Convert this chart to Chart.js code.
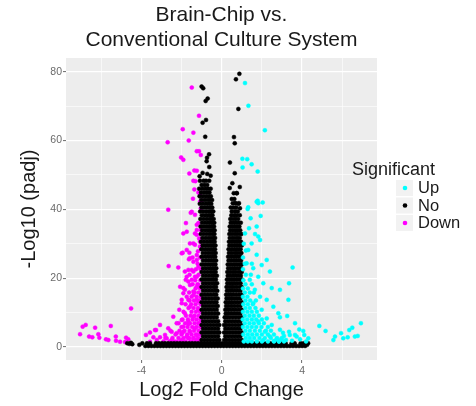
<!DOCTYPE html>
<html>
<head>
<meta charset="utf-8">
<title>Brain-Chip vs. Conventional Culture System</title>
<script src="https://cdn.jsdelivr.net/npm/chart.js@4.4.1/dist/chart.umd.min.js"></script>
<style>
    html, body { margin: 0; padding: 0; background: #ffffff; }
    #volcanoChart { display: block; }
</style>
</head>
<body>
<canvas id="volcanoChart" width="476" height="406"></canvas>
<script>
// Volcano plot: Brain-Chip vs. Conventional Culture System

const titleLines = ['Brain-Chip vs.', 'Conventional Culture System'];
const xAxisTitle = 'Log2 Fold Change';
const yAxisTitle = '-Log10 (padj)';
const legendTitle = 'Significant';
const seriesNames = ['Up', 'No', 'Down'];

// axis ticks (grid lines at every value, labels only on the major ones)
const xGridValues = [-6, -4, -2, 0, 2, 4, 6];
const xTickLabels = [-4, 0, 4];
const yGridValues = [0, 10, 20, 30, 40, 50, 60, 70, 80];
const yTickLabels = [0, 20, 40, 60, 80];

// Up (significant, log2FC > 1): scattered genes [log2FC, -log10 padj]
const upPoints = [
    [1.16, 76.7], [1.33, 70.1], [2.15, 63.0], [1.03, 54.7], [1.27, 54.6], [1.49, 53.1], [1.04, 52.2], [1.79, 51.0],
    [1.74, 42.2], [1.79, 42.5], [2.04, 42.0], [1.29, 40.1], [1.32, 40.6], [1.82, 41.8], [1.94, 38.1], [1.44, 37.4],
    [1.74, 35.0], [1.36, 34.5], [1.16, 33.0], [1.66, 32.8], [1.82, 32.1], [1.91, 31.1], [1.49, 30.1], [1.32, 28.2],
    [1.74, 26.8], [2.24, 25.3], [1.24, 24.3], [1.99, 23.8], [1.57, 22.9], [2.40, 21.9], [1.82, 20.4], [1.40, 19.5],
    [2.07, 18.5], [2.49, 17.1], [1.65, 16.6], [2.90, 16.6], [1.91, 14.6], [2.24, 13.7], [3.32, 13.7], [1.57, 12.7],
    [2.57, 11.7], [1.99, 10.8], [2.82, 9.8], [3.26, 9.0], [2.90, 8.6], [2.24, 8.3], [1.82, 7.4], [2.49, 6.4],
    [3.65, 6.9], [2.15, 4.4], [2.90, 5.0], [2.40, 3.0], [3.39, 3.5], [2.07, 2.0], [2.73, 2.3], [3.53, 23.1],
    [3.35, 18.5], [4.86, 6.1], [5.17, 4.65], [3.86, 5.1], [4.06, 4.65], [4.11, 3.5], [4.31, 2.5], [3.35, 4.4],
    [3.65, 3.5], [3.73, 3.0], [5.64, 3.0], [5.56, 2.0], [5.94, 4.0], [6.05, 2.5], [6.27, 2.8], [6.35, 4.9],
    [6.50, 5.6], [6.93, 6.9], [6.63, 3.0], [6.77, 3.2], [2.95, 2.2], [3.10, 3.2], [3.20, 2.0], [3.05, 4.1],
    [2.60, 1.7], [2.85, 1.6], [3.50, 1.8], [3.90, 2.2], [4.20, 1.6]
];

// Up: dense cloud next to the cut-off, one row per -log10 padj level [y, x, x, ...]
const upRows = [
    [1.6, 1.1, 1.3, 1.5, 1.75, 2.0, 2.3, 2.6, 2.85, 3.1],
    [2.6, 1.2, 1.4, 1.62, 1.88, 2.15, 2.45, 2.75, 3.0],
    [3.6, 1.08, 1.3, 1.52, 1.75, 2.0, 2.3, 2.6],
    [4.7, 1.18, 1.4, 1.65, 1.9, 2.2, 2.45],
    [5.8, 1.06, 1.28, 1.5, 1.72, 1.98, 2.3],
    [6.9, 1.15, 1.38, 1.6, 1.85, 2.1],
    [8.0, 1.05, 1.27, 1.5, 1.72, 2.0],
    [9.1, 1.15, 1.38, 1.6, 1.85],
    [10.2, 1.06, 1.28, 1.5, 1.75],
    [11.3, 1.18, 1.4, 1.68],
    [12.4, 1.08, 1.3, 1.55],
    [13.5, 1.18, 1.42, 1.7],
    [14.6, 1.06, 1.28],
    [15.8, 1.15, 1.4, 1.6],
    [17.0, 1.06, 1.3],
    [18.2, 1.18, 1.5],
    [19.4, 1.08],
    [21.0, 1.2, 1.45],
    [22.6, 1.06],
    [24.2, 1.15, 1.5],
    [26.0, 1.06],
    [28.0, 1.2],
    [30.0, 1.1]
];

// No (not significant): scattered genes above the dense core
const noPoints = [
    [-1.0, 75.7], [-0.92, 75.2], [-0.80, 71.5], [-0.70, 72.2], [-0.78, 66.0], [-0.95, 65.2], [-0.82, 61.1],
    [-0.63, 56.0], [-0.73, 55.0], [-0.75, 54.0], [-0.62, 52.3], [-0.95, 50.6], [-0.55, 49.8], [-1.1, 49.6],
    [-0.72, 50.3], [0.88, 79.4], [0.71, 77.8], [0.83, 69.2], [0.61, 61.0], [0.65, 59.2], [0.41, 53.6],
    [0.65, 50.5], [0.53, 47.6], [0.75, 44.7], [0.66, 41.8], [0.83, 41.6], [0.91, 40.3], [0.40, 46.2],
    [0.90, 46.5], [-4.7, 1.1], [-4.6, 0.9], [-4.52, 1.2], [-4.45, 0.8], [-4.1, 0.6], [4.25, 0.6], [4.3, 1.1]
];

// No: dense left core (negative fold change) [y, x, x, ...]
const noLeftRows = [
    [2.0, -1.0, -0.85, -0.7, -0.55, -0.4, -0.25, -0.12],
    [3.1, -0.93, -0.78, -0.63, -0.48, -0.33, -0.18],
    [4.2, -1.0, -0.85, -0.7, -0.55, -0.4, -0.25, -0.12],
    [5.3, -0.93, -0.78, -0.63, -0.48, -0.33, -0.18],
    [6.4, -1.0, -0.85, -0.7, -0.55, -0.4, -0.25, -0.12],
    [7.5, -0.93, -0.78, -0.63, -0.48, -0.33, -0.18],
    [8.6, -1.0, -0.85, -0.7, -0.55, -0.4, -0.25],
    [9.7, -0.93, -0.78, -0.63, -0.48, -0.33, -0.18],
    [10.8, -1.0, -0.85, -0.7, -0.55, -0.4, -0.25],
    [11.9, -0.93, -0.78, -0.63, -0.48, -0.33, -0.2],
    [13.0, -1.0, -0.85, -0.7, -0.55, -0.4, -0.26],
    [14.1, -0.93, -0.78, -0.63, -0.48, -0.33, -0.2],
    [15.2, -1.0, -0.85, -0.7, -0.55, -0.4, -0.27],
    [16.3, -0.93, -0.78, -0.63, -0.48, -0.34, -0.22],
    [17.4, -1.0, -0.85, -0.7, -0.55, -0.4, -0.28],
    [18.5, -0.93, -0.78, -0.63, -0.48, -0.35, -0.23],
    [19.6, -1.0, -0.85, -0.7, -0.55, -0.41, -0.29],
    [20.7, -0.93, -0.78, -0.63, -0.48, -0.36, -0.24],
    [21.8, -1.0, -0.85, -0.7, -0.55, -0.42, -0.3],
    [22.9, -0.93, -0.78, -0.63, -0.5, -0.38, -0.27],
    [24.0, -1.0, -0.85, -0.7, -0.56, -0.43, -0.31],
    [25.1, -0.93, -0.78, -0.64, -0.51, -0.39, -0.28],
    [26.2, -1.0, -0.85, -0.71, -0.57, -0.44, -0.32],
    [27.3, -0.94, -0.79, -0.65, -0.52, -0.4, -0.3],
    [28.4, -1.01, -0.86, -0.72, -0.58, -0.45, -0.33],
    [29.5, -0.95, -0.8, -0.66, -0.53, -0.41, -0.31],
    [30.6, -1.03, -0.88, -0.73, -0.59, -0.46, -0.35],
    [31.7, -0.96, -0.81, -0.67, -0.54, -0.42, -0.33],
    [32.8, -1.04, -0.89, -0.74, -0.6, -0.47, -0.36],
    [33.9, -0.97, -0.82, -0.68, -0.55, -0.43, -0.35],
    [35.0, -1.05, -0.9, -0.75, -0.61, -0.48, -0.38],
    [36.1, -0.98, -0.83, -0.69, -0.56, -0.45, -0.37],
    [37.2, -1.06, -0.91, -0.76, -0.62, -0.5, -0.4],
    [38.3, -0.99, -0.84, -0.7, -0.57, -0.46],
    [39.4, -1.07, -0.92, -0.77, -0.63, -0.51, -0.42],
    [40.5, -1.0, -0.85, -0.71, -0.58, -0.47],
    [41.6, -1.09, -0.94, -0.79, -0.65, -0.52],
    [42.7, -1.02, -0.87, -0.73, -0.6, -0.48],
    [43.8, -1.1, -0.95, -0.8, -0.66, -0.54],
    [44.9, -1.03, -0.88, -0.74, -0.61],
    [46.0, -1.12, -0.96, -0.81, -0.68, -0.55],
    [47.1, -1.0, -0.86, -0.72],
    [48.3, -1.08, -0.9, -0.78, -0.62]
];

// No: dense right core (positive fold change) [y, x, x, ...]
const noRightRows = [
    [2.0, 0.12, 0.25, 0.4, 0.55, 0.7, 0.85, 1.0],
    [3.1, 0.18, 0.33, 0.48, 0.63, 0.78, 0.93],
    [4.2, 0.12, 0.25, 0.4, 0.55, 0.7, 0.85, 1.0],
    [5.3, 0.18, 0.33, 0.48, 0.63, 0.78, 0.93],
    [6.4, 0.12, 0.25, 0.4, 0.55, 0.7, 0.85, 1.0],
    [7.5, 0.18, 0.33, 0.48, 0.63, 0.78, 0.93],
    [8.6, 0.15, 0.27, 0.4, 0.55, 0.7, 0.85, 1.0],
    [9.7, 0.2, 0.33, 0.48, 0.63, 0.78, 0.93],
    [10.8, 0.18, 0.3, 0.42, 0.56, 0.7, 0.85, 1.0],
    [11.9, 0.22, 0.35, 0.49, 0.63, 0.78, 0.93],
    [13.0, 0.2, 0.32, 0.44, 0.57, 0.71, 0.85, 1.0],
    [14.1, 0.24, 0.37, 0.5, 0.64, 0.78, 0.93],
    [15.2, 0.22, 0.34, 0.46, 0.58, 0.72, 0.86, 1.0],
    [16.3, 0.26, 0.39, 0.52, 0.65, 0.79, 0.93],
    [17.4, 0.24, 0.36, 0.48, 0.6, 0.73, 0.87, 1.0],
    [18.5, 0.28, 0.41, 0.54, 0.67, 0.8, 0.94],
    [19.6, 0.26, 0.38, 0.5, 0.62, 0.75, 0.88, 1.0],
    [20.7, 0.3, 0.43, 0.56, 0.69, 0.82, 0.95],
    [21.8, 0.28, 0.4, 0.52, 0.64, 0.76, 0.89, 1.0],
    [22.9, 0.32, 0.45, 0.58, 0.7, 0.83, 0.95],
    [24.0, 0.3, 0.42, 0.54, 0.66, 0.78, 0.9, 1.0],
    [25.1, 0.34, 0.47, 0.6, 0.72, 0.84, 0.96],
    [26.2, 0.32, 0.44, 0.56, 0.68, 0.8, 0.92],
    [27.3, 0.36, 0.49, 0.62, 0.74, 0.86, 0.98],
    [28.4, 0.34, 0.46, 0.58, 0.7, 0.82, 0.94],
    [29.5, 0.38, 0.51, 0.64, 0.76, 0.88, 1.0],
    [30.6, 0.36, 0.48, 0.6, 0.72, 0.84, 0.96],
    [31.7, 0.4, 0.53, 0.66, 0.78, 0.9],
    [32.8, 0.38, 0.5, 0.62, 0.74, 0.86, 0.98],
    [33.9, 0.42, 0.55, 0.68, 0.8, 0.92],
    [35.0, 0.4, 0.52, 0.64, 0.76, 0.88],
    [36.1, 0.45, 0.58, 0.7, 0.83, 0.95],
    [37.2, 0.43, 0.56, 0.69, 0.82],
    [38.3, 0.48, 0.62, 0.75, 0.9],
    [39.4, 0.5, 0.66, 0.8],
    [40.5, 0.45, 0.58, 0.72],
    [41.8, 0.55, 0.7, 0.86],
    [43.0, 0.5, 0.63],
    [44.7, 0.6, 0.75]
];

// No: the flat band of genes with padj above the threshold [y, x, x, ...]
const noBandRows = [
    [0.3, -3.8, -3.65, -3.5, -3.35, -3.2, -3.05, -2.9, -2.75, -2.6, -2.45, -2.3, -2.15, -2.0, -1.85, -1.7,
        -1.55, -1.4, -1.25, -1.1, -0.95, -0.8, -0.65, -0.5, -0.35, -0.2, -0.05, 0.1, 0.25, 0.4, 0.55, 0.7,
        0.85, 1.0, 1.15, 1.3, 1.45, 1.6, 1.75, 1.9, 2.05, 2.2, 2.35, 2.5, 2.65, 2.8, 2.95, 3.1, 3.25, 3.4,
        3.55, 3.7, 3.85, 4.0, 4.15],
    [1.05, -3.95, -3.72, -3.57, -3.27, -3.12, -2.97, -2.82, -2.67, -2.52, -2.37, -2.22, -2.07, -1.92, -1.77,
        -1.62, -1.47, -1.32, -1.17, -1.02, -0.87, -0.72, -0.57, -0.42, -0.27, -0.12, 0.03, 0.18, 0.33, 0.48,
        0.63, 0.78, 0.93, 1.08, 1.23, 1.38, 1.53, 1.68, 1.83, 1.98, 2.13, 2.28, 2.43, 2.58, 2.73, 2.88, 3.03,
        3.18, 3.48, 3.63, 3.93, 4.08]
];

// Down (significant, log2FC < -1): scattered genes
const downPoints = [
    [-1.49, 75.4], [-1.13, 67.2], [-1.94, 63.3], [-1.41, 62.3], [-2.69, 59.5], [-1.64, 60.0], [-1.24, 56.9],
    [-1.13, 56.9], [-1.04, 55.8], [-2.02, 55.1], [-1.91, 54.4], [-1.36, 51.3], [-1.24, 51.2], [-1.61, 50.4],
    [-1.41, 48.3], [-1.31, 48.2], [-1.36, 45.8], [-1.16, 44.9], [-1.08, 44.2], [-1.43, 43.1], [-1.0, 42.5],
    [-1.08, 42.2], [-1.04, 40.3], [-2.66, 39.9], [-1.54, 39.0], [-1.49, 39.3], [-1.33, 38.4], [-1.78, 36.0],
    [-1.16, 36.0], [-1.24, 35.5], [-1.24, 34.0], [-1.91, 33.0], [-1.74, 33.5], [-1.33, 33.0], [-1.24, 32.6],
    [-1.58, 30.1], [-1.08, 30.6], [-1.41, 30.1], [-1.33, 29.7], [-1.08, 29.2], [-1.74, 28.2], [-1.94, 27.4],
    [-1.99, 27.2], [-1.61, 27.4], [-1.24, 26.7], [-1.58, 25.8], [-1.63, 25.5], [-1.41, 24.8], [-1.24, 25.3],
    [-2.64, 23.5], [-2.16, 23.1], [-1.16, 23.3], [-1.49, 22.4], [-1.83, 21.9], [-1.66, 22.4], [-1.41, 21.9],
    [-1.74, 20.4], [-1.33, 20.4], [-1.49, 19.5], [-1.24, 20.4], [-1.79, 19.5], [-1.66, 19.0], [-1.16, 18.0],
    [-1.58, 18.0], [-2.07, 17.5], [-1.91, 17.1], [-1.24, 17.5], [-1.83, 16.6], [-1.41, 16.1], [-1.91, 15.6],
    [-1.74, 14.6], [-1.41, 15.1], [-1.24, 13.7], [-1.66, 13.7], [-1.99, 13.7], [-1.16, 13.2], [-1.99, 12.7],
    [-1.58, 11.7], [-1.16, 10.8], [-2.11, 10.8], [-1.83, 9.8], [-1.41, 8.8], [-2.41, 8.8], [-1.66, 7.4],
    [-1.99, 7.8], [-2.24, 6.9], [-1.66, 6.7], [-1.16, 6.9], [-1.91, 5.9], [-1.33, 5.4], [-2.66, 5.4],
    [-1.58, 4.4], [-2.49, 4.4], [-1.99, 4.0], [-2.24, 4.0], [-1.91, 4.4], [-2.82, 3.5], [-1.24, 3.5],
    [-1.74, 3.0], [-3.07, 2.8], [-2.74, 2.5], [-1.41, 2.5], [-1.66, 2.5], [-1.08, 2.2], [-2.49, 2.0],
    [-3.23, 2.0], [-3.57, 1.5], [-3.40, 2.8], [-1.99, 2.0], [-1.49, 1.5], [-1.24, 2.0], [-2.24, 1.5],
    [-4.51, 11.2], [-3.07, 6.4], [-3.27, 4.9], [-3.77, 3.5], [-3.57, 4.2], [-3.32, 4.9],
    [-6.92, 5.9], [-6.77, 6.4], [-6.30, 5.6], [-5.52, 6.1], [-7.05, 3.7], [-6.60, 3.0], [-6.44, 2.8],
    [-6.14, 3.7], [-6.09, 2.7], [-5.76, 2.2], [-5.64, 2.0], [-5.27, 3.0], [-5.26, 1.8], [-5.06, 1.5],
    [-4.81, 1.4], [-4.76, 2.7], [-4.65, 2.2]
];

// Down: dense cloud next to the cut-off [y, x, x, ...]
const downRows = [
    [1.6, -1.1, -1.3, -1.55, -1.8, -2.05, -2.35, -2.6, -2.9],
    [2.6, -1.18, -1.4, -1.62, -1.9, -2.15, -2.45, -2.8],
    [3.6, -1.08, -1.28, -1.5, -1.72, -2.0, -2.3],
    [4.7, -1.15, -1.38, -1.6, -1.85, -2.1, -2.55],
    [5.8, -1.05, -1.25, -1.47, -1.7, -2.0],
    [6.9, -1.12, -1.35, -1.58, -1.82, -2.15],
    [8.0, -1.05, -1.25, -1.45, -1.68, -1.95],
    [9.1, -1.15, -1.35, -1.55, -1.78],
    [10.2, -1.08, -1.28, -1.5, -1.9],
    [11.3, -1.18, -1.4, -1.65],
    [12.4, -1.05, -1.3, -1.52, -1.8],
    [13.5, -1.12, -1.38, -1.6],
    [14.6, -1.05, -1.25, -1.5],
    [15.8, -1.15, -1.35, -1.62],
    [17.0, -1.08, -1.3],
    [18.2, -1.2, -1.45],
    [19.4, -1.06, -1.32],
    [21.0, -1.15, -1.6],
    [22.6, -1.05, -1.28],
    [24.2, -1.2],
    [26.0, -1.08, -1.45],
    [27.8, -1.18],
    [29.0, -1.05],
    [31.5, -1.12],
    [34.0, -1.05]
];

const seriesColors = ['#00FFFF', '#000000', '#FF00FF'];
const fontFamily = '"Liberation Sans", Arial, Helvetica, sans-serif';

/**
 * Turn [x, y] pairs into chart points
 */
function pairsToPoints(pairs) {
    return pairs.map(p => ({ x: p[0], y: p[1] }));
}

/**
 * Turn [y, x1, x2, ...] rows into chart points
 */
function rowsToPoints(rows) {
    const points = [];
    rows.forEach(row => {
        row.slice(1).forEach(x => points.push({ x: x, y: row[0] }));
    });
    return points;
}

// Grey ggplot panel behind the points
const panelBackground = {
    id: 'panelBackground',
    beforeDraw(chart) {
        const { ctx, chartArea } = chart;
        ctx.save();
        ctx.fillStyle = '#EDEDED';
        ctx.fillRect(chartArea.left, chartArea.top, chartArea.right - chartArea.left, chartArea.bottom - chartArea.top);
        ctx.restore();
    }
};

// ggplot style legend on the right
const sideLegend = {
    id: 'sideLegend',
    afterDraw(chart) {
        const ctx = chart.ctx;
        ctx.save();
        ctx.textBaseline = 'middle';
        ctx.textAlign = 'left';
        ctx.fillStyle = '#1a1a1a';
        ctx.font = '18px ' + fontFamily;
        ctx.fillText(legendTitle, 352, 170);

        chart.data.datasets.forEach((ds, i) => {
            const cy = 188 + i * 17.5;
            ctx.fillStyle = '#F2F2F2';
            ctx.fillRect(396, cy - 8, 17, 16);
            ctx.beginPath();
            ctx.arc(405, cy, 2.3, 0, Math.PI * 2);
            ctx.fillStyle = ds.backgroundColor;
            ctx.fill();
            ctx.fillStyle = '#1a1a1a';
            ctx.font = '16.5px ' + fontFamily;
            ctx.fillText(ds.label, 418, cy + 0.5);
        });
        ctx.restore();
    }
};

function isMajor(list, value) {
    return list.indexOf(value) !== -1;
}

function createVolcanoChart() {
    const ctx = document.getElementById('volcanoChart');

    const pointData = [
        pairsToPoints(upPoints).concat(rowsToPoints(upRows)),
        pairsToPoints(noPoints).concat(rowsToPoints(noLeftRows), rowsToPoints(noRightRows), rowsToPoints(noBandRows)),
        pairsToPoints(downPoints).concat(rowsToPoints(downRows))
    ];

    new Chart(ctx, {
        type: 'scatter',
        data: {
            datasets: seriesNames.map((name, i) => ({
                label: name,
                data: pointData[i],
                backgroundColor: seriesColors[i],
                borderColor: seriesColors[i],
                pointRadius: 2,
                pointBorderWidth: 0.5,
                pointHoverRadius: 2
            }))
        },
        options: {
            responsive: false,
            animation: false,
            devicePixelRatio: 1,
            layout: {
                padding: { left: 0, right: 99, top: 0, bottom: 0 }
            },
            scales: {
                x: {
                    type: 'linear',
                    min: -7.75,
                    max: 7.73,
                    afterBuildTicks: scale => {
                        scale.ticks = xGridValues.map(v => ({ value: v }));
                    },
                    afterFit: scale => { scale.height = 46; },
                    ticks: {
                        autoSkip: false,
                        maxRotation: 0,
                        padding: 2,
                        color: '#6b6b6b',
                        font: { family: fontFamily, size: 10.5 },
                        callback: v => isMajor(xTickLabels, v) ? String(v) : ''
                    },
                    grid: {
                        color: '#ffffff',
                        lineWidth: c => isMajor(xTickLabels, c.tick.value) ? 1.2 : 0.6,
                        tickColor: c => isMajor(xTickLabels, c.tick.value) ? '#6b6b6b' : 'rgba(0,0,0,0)',
                        tickLength: 3,
                        tickWidth: 1
                    },
                    border: { display: false },
                    title: {
                        display: true,
                        text: xAxisTitle,
                        color: '#1a1a1a',
                        font: { family: fontFamily, size: 20 },
                        padding: { top: 0, bottom: 4 }
                    }
                },
                y: {
                    type: 'linear',
                    min: -3.8,
                    max: 84,
                    afterBuildTicks: scale => {
                        scale.ticks = yGridValues.map(v => ({ value: v }));
                    },
                    afterFit: scale => { scale.width = 66; },
                    ticks: {
                        autoSkip: false,
                        padding: 1,
                        color: '#6b6b6b',
                        font: { family: fontFamily, size: 10.5 },
                        callback: v => isMajor(yTickLabels, v) ? String(v) : ''
                    },
                    grid: {
                        color: '#ffffff',
                        lineWidth: c => isMajor(yTickLabels, c.tick.value) ? 1.2 : 0.6,
                        tickColor: c => isMajor(yTickLabels, c.tick.value) ? '#6b6b6b' : 'rgba(0,0,0,0)',
                        tickLength: 3,
                        tickWidth: 1
                    },
                    border: { display: false },
                    title: {
                        display: true,
                        text: yAxisTitle,
                        color: '#1a1a1a',
                        font: { family: fontFamily, size: 20 },
                        padding: { top: 17, bottom: 0 }
                    }
                }
            },
            plugins: {
                legend: { display: false },
                tooltip: { enabled: false },
                title: {
                    display: true,
                    text: titleLines,
                    fullSize: false,
                    color: '#1a1a1a',
                    font: { family: fontFamily, size: 21, weight: 'normal', lineHeight: 25 / 21 },
                    padding: { top: 3.2, bottom: 4.8 }
                }
            }
        },
        plugins: [panelBackground, sideLegend]
    });
}

document.addEventListener('DOMContentLoaded', createVolcanoChart);
</script>
</body>
</html>
